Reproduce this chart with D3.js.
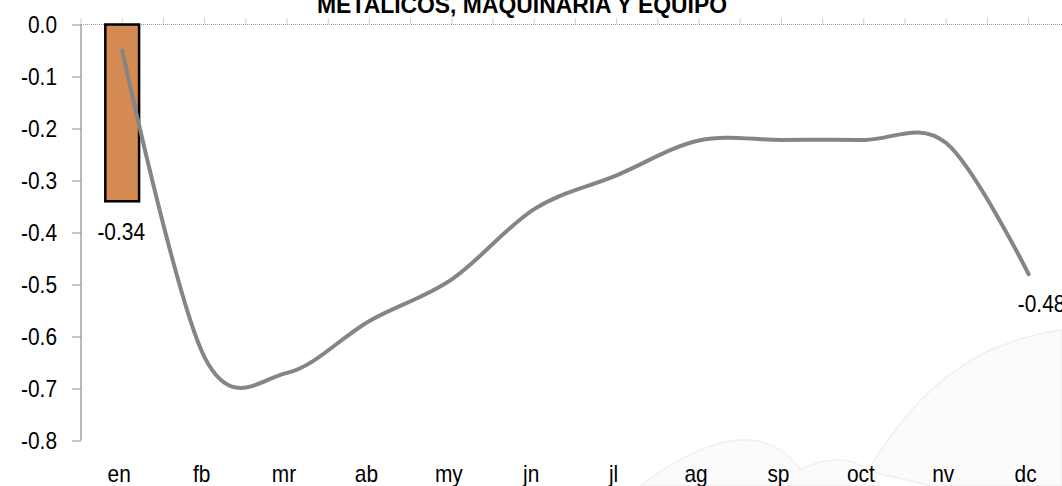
<!DOCTYPE html>
<html>
<head>
<meta charset="utf-8">
<script src="https://cdn.jsdelivr.net/npm/d3@7"></script>
<style>
  body { margin: 0; background: #fff; }
  text { font-family: "Liberation Sans", Arial, sans-serif; }
</style>
</head>
<body>
<svg id="chart" width="1062" height="486"></svg>
<script>
// data
var months = ["en", "fb", "mr", "ab", "my", "jn", "jl", "ag", "sp", "oct", "nv", "dc"];
var barMonths = ["en"];
var barValues = [-0.34];
var lineValues = [-0.05, -0.64, -0.67, -0.57, -0.49, -0.355, -0.29, -0.223, -0.222, -0.222, -0.228, -0.48];
var yTicks = [0, -0.1, -0.2, -0.3, -0.4, -0.5, -0.6, -0.7, -0.8];
var title = "METALICOS, MAQUINARIA Y EQUIPO";

var svg = d3.select("#chart");
var plotLeft = 81, plotTop = 24.5, plotBottom = 440.5, band = 82.4;
var squeeze = 0.87; // the original font is narrow

var x = d3.scaleBand().domain(months).range([plotLeft, plotLeft + band * months.length]);
var y = d3.scaleLinear().domain([-0.8, 0]).range([plotBottom, plotTop]);

// faint watermark in the lower right
var wm = svg.append("g").attr("fill", "#fbfbfb").attr("stroke", "#efefef").attr("stroke-width", 1.5);
wm.append("path").attr("d", "M868,470 C900,420 930,380 990,350 C1020,338 1045,332 1062,330 L1062,486 L930,486 C910,480 885,476 868,470 Z");
wm.append("path").attr("d", "M640,486 C680,455 720,438 750,440 C775,442 790,455 800,470 C830,455 850,458 870,470 L880,486 Z");

// title, cut by the top edge like the original
svg.append("text")
    .attr("x", 522).attr("y", 13)
    .attr("text-anchor", "middle")
    .attr("font-weight", "bold")
    .attr("font-size", 24)
    .attr("textLength", 410)
    .attr("lengthAdjust", "spacingAndGlyphs")
    .text(title);

// y axis
var yAxis = svg.append("g")
    .attr("transform", "translate(" + plotLeft + ",0)")
    .call(d3.axisLeft(y).tickValues(yTicks).tickSize(9));
yAxis.select(".domain").attr("stroke", "#8c8c8c").attr("stroke-width", 1.2)
    .attr("d", "M0," + plotTop + "V" + plotBottom);
yAxis.selectAll(".tick line").attr("stroke", "#8c8c8c");
yAxis.selectAll(".tick text")
    .attr("x", -24 / squeeze)
    .attr("transform", "scale(" + squeeze + ",1)")
    .attr("font-size", 24)
    .attr("fill", "#000")
    .style("font-family", "'Liberation Sans', Arial, sans-serif")
    .text(function(d) { return d === 0 ? "0.0" : d.toFixed(1); });

// dotted zero line with small upward ticks every half band
var half = d3.range(0, months.length * 2 + 1).map(function(i) { return plotLeft + i * band / 2; });
svg.append("line")
    .attr("x1", plotLeft).attr("x2", 1062)
    .attr("y1", y(0)).attr("y2", y(0))
    .attr("stroke", "#9a9a9a").attr("stroke-width", 1.2)
    .attr("stroke-dasharray", "1,1");
svg.selectAll(".xt").data(half).enter().append("line")
    .attr("class", "xt")
    .attr("x1", function(d) { return d; }).attr("x2", function(d) { return d; })
    .attr("y1", y(0) - 6).attr("y2", y(0))
    .attr("stroke", "#9a9a9a").attr("stroke-dasharray", "1,1");

// category labels
svg.selectAll(".cat").data(months).enter().append("text")
    .attr("class", "cat")
    .attr("transform", function(d) {
        return "translate(" + (x(d) + x.bandwidth() / 2 - 3) + ",482) scale(" + squeeze + ",1)";
    })
    .attr("text-anchor", "middle")
    .attr("font-size", 24)
    .text(function(d) { return d; });

// bars
var bw = x.bandwidth() * 0.41;
svg.selectAll(".bar").data(barValues).enter().append("rect")
    .attr("class", "bar")
    .attr("x", function(d, i) { return x(barMonths[i]) + (x.bandwidth() - bw) / 2; })
    .attr("y", y(0))
    .attr("width", bw)
    .attr("height", function(d) { return y(d) - y(0); })
    .attr("fill", "#D48A52")
    .attr("stroke", "#000")
    .attr("stroke-width", 2.5);

svg.selectAll(".barlab").data(barValues).enter().append("text")
    .attr("class", "barlab")
    .attr("transform", function(d, i) {
        return "translate(" + (x(barMonths[i]) + x.bandwidth() / 2 - 1) + "," + (y(d) + 39) + ") scale(" + squeeze + ",1)";
    })
    .attr("text-anchor", "middle")
    .attr("font-size", 24)
    .text(function(d) { return d.toFixed(2); });

// smoothed line
var line = d3.line()
    .x(function(d, i) { return x(months[i]) + x.bandwidth() / 2; })
    .y(function(d) { return y(d); })
    .curve(d3.curveCardinal.tension(0));

svg.append("path")
    .datum(lineValues)
    .attr("d", line)
    .attr("fill", "none")
    .attr("stroke", "#858585")
    .attr("stroke-width", 4)
    .attr("stroke-linecap", "round");

// label on the last point
var last = lineValues.length - 1;
svg.append("text")
    .attr("transform", "translate(" + (x(months[last]) + x.bandwidth() / 2 + 13) + "," + (y(lineValues[last]) + 38) + ") scale(" + squeeze + ",1)")
    .attr("text-anchor", "middle")
    .attr("font-size", 24)
    .text(lineValues[last].toFixed(2));
</script>
</body>
</html>
